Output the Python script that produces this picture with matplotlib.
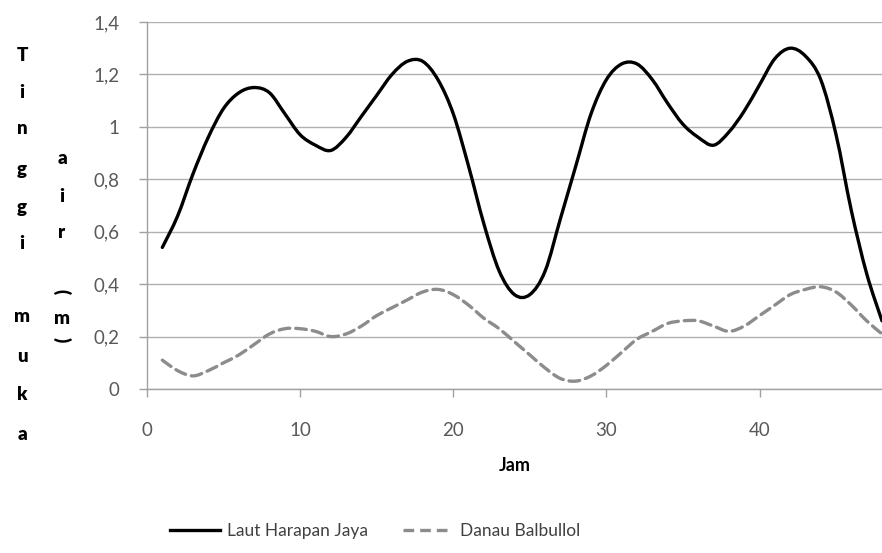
import matplotlib
matplotlib.use("Agg")
import matplotlib.pyplot as plt
from matplotlib.ticker import FuncFormatter
from matplotlib.path import Path
from matplotlib.patches import PathPatch
from matplotlib.lines import Line2D

hours = list(range(1, 49))
laut = [0.54, 0.66, 0.82, 0.96, 1.07, 1.13, 1.15, 1.13, 1.05, 0.97, 0.93, 0.91,
        0.96, 1.04, 1.12, 1.20, 1.25, 1.25, 1.18, 1.05, 0.85, 0.63, 0.45, 0.36,
        0.36, 0.45, 0.65, 0.85, 1.05, 1.18, 1.24, 1.24, 1.18, 1.09, 1.01, 0.96,
        0.93, 0.98, 1.06, 1.16, 1.26, 1.30, 1.27, 1.18, 0.97, 0.68, 0.44, 0.26]
danau = [0.11, 0.07, 0.05, 0.07, 0.10, 0.13, 0.17, 0.21, 0.23, 0.23, 0.22, 0.20,
         0.21, 0.24, 0.28, 0.31, 0.34, 0.37, 0.38, 0.36, 0.32, 0.27, 0.23, 0.18,
         0.13, 0.08, 0.04, 0.03, 0.05, 0.09, 0.14, 0.19, 0.22, 0.25, 0.26, 0.26,
         0.24, 0.22, 0.24, 0.28, 0.32, 0.36, 0.38, 0.39, 0.37, 0.32, 0.26, 0.21]
series_names = ["Laut Harapan Jaya", "Danau Balbullol"]
x_ticks = [0, 10, 20, 30, 40]
y_ticks = [0, 0.2, 0.4, 0.6, 0.8, 1.0, 1.2, 1.4]
x_label = "Jam"

W, H = 882, 553
fig = plt.figure(figsize=(W / 100, H / 100), dpi=100)
ax = fig.add_axes([147 / W, 1 - 389 / H, (W - 147) / W, (389 - 22) / H])

FONT = "Lato"
TICK_COLOR = "#595959"


def smooth_path(xs, ys):
    """Excel-like smoothed line: cubic Bezier segments (Catmull-Rom control points)."""
    n = len(xs)
    verts = [(xs[0], ys[0])]
    codes = [Path.MOVETO]
    for i in range(n - 1):
        x0, y0 = (xs[i - 1], ys[i - 1]) if i > 0 else (xs[i], ys[i])
        x1, y1 = xs[i], ys[i]
        x2, y2 = xs[i + 1], ys[i + 1]
        x3, y3 = (xs[i + 2], ys[i + 2]) if i + 2 < n else (x2, y2)
        c1 = (x1 + (x2 - x0) / 6.0, y1 + (y2 - y0) / 6.0)
        c2 = (x2 - (x3 - x1) / 6.0, y2 - (y3 - y1) / 6.0)
        verts += [c1, c2, (x2, y2)]
        codes += [Path.CURVE4] * 3
    return Path(verts, codes)


styles = [
    dict(color="black", lw=2.4, ls="-"),
    dict(color="#8c8c8c", lw=2.4, ls=(0, (3.2, 1.8))),
]
handles = []
for ys, name, st in zip([laut, danau], series_names, styles):
    patch = PathPatch(smooth_path(hours, ys), fill=False, edgecolor=st["color"],
                      lw=st["lw"], linestyle=st["ls"], capstyle="round",
                      joinstyle="round", zorder=3, transform=ax.transData)
    ax.add_patch(patch)
    handles.append(Line2D([], [], color=st["color"], lw=st["lw"],
                          linestyle=st["ls"], label=name))

ax.set_xlim(0, 48)
ax.set_ylim(0, 1.4)
ax.set_xticks(x_ticks)
ax.set_yticks(y_ticks)


def comma_fmt(v, pos):
    s = ("%.1f" % v).rstrip("0").rstrip(".")
    return s.replace(".", ",")


ax.yaxis.set_major_formatter(FuncFormatter(comma_fmt))
ax.grid(axis="y", color="#b0b0b0", lw=1.0, zorder=0)
ax.set_axisbelow(True)

for s in ["top", "right"]:
    ax.spines[s].set_visible(False)
for s in ["left", "bottom"]:
    ax.spines[s].set_color("#a0a0a0")
    ax.spines[s].set_linewidth(1.0)

ax.tick_params(axis="both", direction="out", length=6, width=1.0,
               color="#a0a0a0", labelcolor=TICK_COLOR, labelsize=13.5)
ax.tick_params(axis="x", pad=18)
ax.tick_params(axis="y", pad=14)
for lab in ax.get_xticklabels() + ax.get_yticklabels():
    lab.set_fontfamily(FONT)

ax.set_xlabel(x_label, fontfamily=FONT, fontweight="bold", fontsize=13,
              color="black", labelpad=13)

# vertical stacked y-axis label
LBL = dict(ha="center", va="center", fontsize=13.5, fontweight="heavy",
           fontfamily=FONT, color="black")
col1 = [("T", 55), ("i", 92), ("n", 129), ("g", 170), ("g", 207), ("i", 243),
        ("m", 317), ("u", 356), ("k", 394), ("a", 434)]
col2 = [("a", 158), ("i", 197), ("r", 233), ("m", 318)]
for ch, yy in col1:
    fig.text(22 / W, 1 - yy / H, ch, **LBL)
for ch, yy in col2:
    fig.text(62 / W, 1 - yy / H, ch, **LBL)
fig.text(62 / W, 1 - 292 / H, "(", rotation=-90, **LBL)
fig.text(62 / W, 1 - 340 / H, ")", rotation=-90, **LBL)

leg = fig.legend(handles=handles, loc="center",
                 bbox_to_anchor=(375 / W, 1 - 531 / H), ncol=2,
                 frameon=False, handlelength=2.9, columnspacing=2.0,
                 handletextpad=0.4, prop={"family": FONT, "size": 12.5})
for t in leg.get_texts():
    t.set_color("#404040")

fig.savefig("out.png", dpi=100)
